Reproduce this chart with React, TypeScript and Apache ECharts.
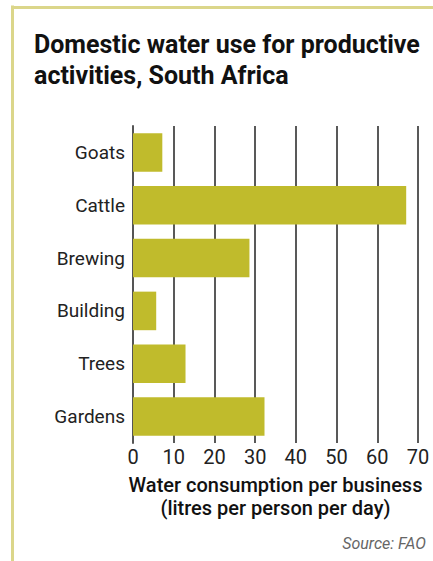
import React, { useEffect, useRef } from "react";
import * as echarts from "echarts";

const categories = ["Goats", "Cattle", "Brewing", "Building", "Trees", "Gardens"];
const values = [7.2, 67.1, 28.6, 5.7, 12.9, 32.3];
const titleText = "Domestic water use for productive\nactivities, South Africa";
const axisName = "Water consumption per business\n(litres per person per day)";
const sourceText = "Source: FAO";

const FONT = "Roboto";

export default function App() {
  const ref = useRef<HTMLDivElement>(null);
  useEffect(() => {
    if (!ref.current) return;
    const chart = echarts.init(ref.current, null, { renderer: "svg" });
    chart.setOption({
      animation: false,
      backgroundColor: "#ffffff",
      title: {
        text: titleText,
        left: 29,
        top: 24,
        textStyle: {
          fontFamily: FONT,
          fontSize: 25,
          fontWeight: "bold",
          color: "#111",
          lineHeight: 31,
        },
      },
      grid: { left: 133, right: 15, top: 126, height: 317, containLabel: false },
      xAxis: {
        type: "value",
        min: 0,
        max: 70,
        interval: 10,
        axisLine: { show: false },
        axisTick: { show: false },
        splitLine: { show: true, lineStyle: { color: "#222", width: 1.5 } },
        axisLabel: {
          fontFamily: FONT,
          fontSize: 20,
          color: "#222",
          margin: 4,
        },
        name: axisName,
        nameLocation: "middle",
        nameGap: 30,
        nameTextStyle: {
          fontFamily: FONT,
          fontSize: 20,
          fontWeight: 500,
          color: "#111",
          lineHeight: 23,
          verticalAlign: "top",
        },
      },
      yAxis: {
        type: "category",
        data: categories,
        inverse: true,
        axisLine: { show: true, lineStyle: { color: "#555", width: 2 } },
        axisTick: { show: false },
        splitLine: { show: false },
        axisLabel: {
          fontFamily: FONT,
          fontSize: 19,
          color: "#222",
          margin: 8,
        },
      },
      series: [
        {
          type: "bar",
          data: values,
          barCategoryGap: "27%",
          itemStyle: { color: "#c0bb2c" },
          z: 3,
        },
      ],
      graphic: [
        {
          type: "line",
          shape: { x1: 12.5, y1: 5.5, x2: 12.5, y2: 561 },
          style: { stroke: "#dbd68a", lineWidth: 3 },
        },
        {
          type: "line",
          shape: { x1: 11, y1: 7.5, x2: 433, y2: 7.5 },
          style: { stroke: "#dbd68a", lineWidth: 3 },
        },
        {
          type: "text",
          right: 7,
          top: 535,
          style: {
            text: sourceText,
            font: "italic 16px " + FONT,
            fill: "#666",
          },
        },
      ],
    });
    return () => chart.dispose();
  }, []);
  return (
    <div
      ref={ref}
      style={{ position: "absolute", left: 0, top: 0, width: 433, height: 561 }}
    />
  );
}
